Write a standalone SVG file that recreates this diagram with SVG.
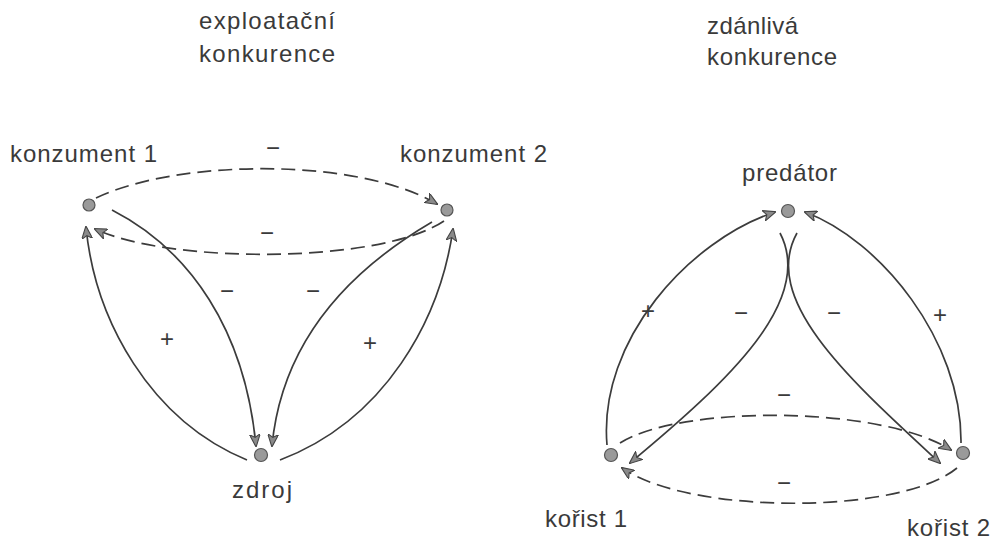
<svg xmlns="http://www.w3.org/2000/svg" width="995" height="540" viewBox="0 0 995 540">
<defs>
<style>
text{font-family:"Liberation Sans",Arial,sans-serif;font-size:24px;fill:#3a3a3a}
.sign{font-size:24px;text-anchor:middle}
.node{fill:#9a9a9a;stroke:#555;stroke-width:1.2}
.solid{fill:none;stroke:#3c3c3c;stroke-width:1.7}
.dash{fill:none;stroke:#3c3c3c;stroke-width:1.7;stroke-dasharray:14 7}
</style>
<marker id="ah" viewBox="0 0 12 10" refX="11" refY="5" markerWidth="13" markerHeight="11" markerUnits="userSpaceOnUse" orient="auto">
<path d="M0,0 L12,5 L0,10 L3,5 z" fill="#8a8a8a" stroke="#444" stroke-width="1"/>
</marker>
</defs>
<rect width="995" height="540" fill="#ffffff"/>

<g id="titles">
<text x="199" y="29" textLength="136">exploatační</text>
<text x="199" y="62" textLength="136">konkurence</text>
<text x="707" y="34" textLength="91">zdánlivá</text>
<text x="707" y="65" textLength="130">konkurence</text>
</g>

<g id="connectors">
<!-- left diagram -->
<path class="dash" d="M96,198 C180,158 360,158 437,204" marker-end="url(#ah)"/>
<path class="dash" d="M444,221 C380,264 170,264 95,229" marker-end="url(#ah)"/>
<path class="solid" d="M112,210 C190,250 245,330 256,446" marker-end="url(#ah)"/>
<path class="solid" d="M432,222 C350,270 282,340 272,446" marker-end="url(#ah)"/>
<path class="solid" d="M247,460 C150,420 95,320 86,227" marker-end="url(#ah)"/>
<path class="solid" d="M280,460 C385,420 440,320 453,229" marker-end="url(#ah)"/>
<!-- right diagram -->
<path class="solid" d="M607,445 C598,340 690,240 775,212" marker-end="url(#ah)"/>
<path class="solid" d="M961,443 C962,340 880,240 805,212" marker-end="url(#ah)"/>
<path class="solid" d="M780,233 C815,300 730,380 630,463" marker-end="url(#ah)"/>
<path class="solid" d="M797,233 C760,300 850,380 940,463" marker-end="url(#ah)"/>
<path class="dash" d="M620,443 C680,405 880,405 951,450" marker-end="url(#ah)"/>
<path class="dash" d="M957,468 C900,515 690,515 622,468" marker-end="url(#ah)"/>
</g>

<g id="signs">
<text class="sign" x="273" y="156">−</text>
<text class="sign" x="267" y="241">−</text>
<text class="sign" x="227" y="299">−</text>
<text class="sign" x="313" y="299">−</text>
<text class="sign" x="167" y="347">+</text>
<text class="sign" x="370" y="351">+</text>
<text class="sign" x="648" y="319">+</text>
<text class="sign" x="940" y="323">+</text>
<text class="sign" x="741" y="321">−</text>
<text class="sign" x="834" y="321">−</text>
<text class="sign" x="784" y="403">−</text>
<text class="sign" x="784" y="491">−</text>
</g>

<g id="konzument1">
<circle class="node" cx="89" cy="205" r="6"/>
<text x="10" y="162" textLength="147">konzument 1</text>
</g>
<g id="konzument2">
<circle class="node" cx="447" cy="210" r="6"/>
<text x="400" y="162" textLength="147">konzument 2</text>
</g>
<g id="zdroj">
<circle class="node" cx="261" cy="455" r="6.5"/>
<text x="232" y="498" textLength="60">zdroj</text>
</g>
<g id="predator">
<circle class="node" cx="788" cy="211" r="6.5"/>
<text x="742" y="181" textLength="95">predátor</text>
</g>
<g id="korist1">
<circle class="node" cx="611" cy="455" r="6.5"/>
<text x="545" y="527" textLength="82">kořist 1</text>
</g>
<g id="korist2">
<circle class="node" cx="963" cy="453" r="6.5"/>
<text x="907" y="536" textLength="83">kořist 2</text>
</g>
</svg>
